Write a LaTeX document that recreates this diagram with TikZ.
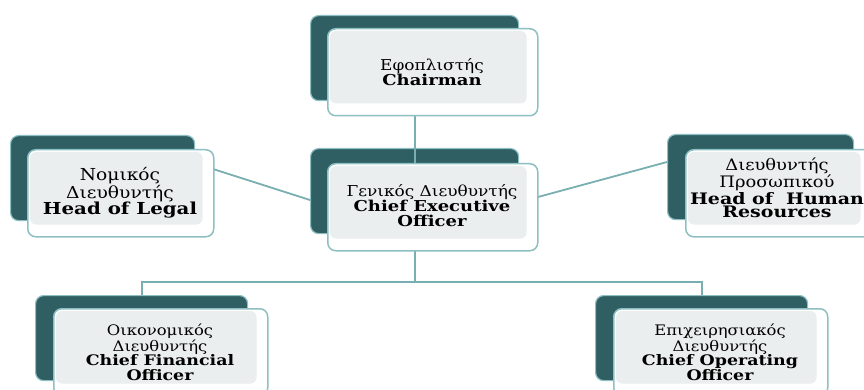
\documentclass[tikz,border=0pt]{standalone}
\usepackage{fontspec}
\setmainfont{DejaVu Serif}[FakeStretch=1.13]
\newfontfamily\bdfam{DejaVu Serif}[FakeStretch=1.2]
\newcommand{\B}[1]{{\bdfam\bfseries #1}}
\usetikzlibrary{calc}
\definecolor{dk}{HTML}{2F5F62}
\definecolor{bord}{HTML}{8EBFC2}
\definecolor{ln}{HTML}{7AAFB2}
\definecolor{gr}{HTML}{EBEEEE}
\tikzset{
  darkbox/.style={draw=bord, fill=dk, rounded corners=8pt, line width=1.2pt, minimum height=85pt, anchor=north west, inner sep=0},
  frontbox/.style={draw=bord, fill=white, rounded corners=8pt, line width=1.5pt, minimum height=87pt, anchor=north west, inner sep=0},
  innerbox/.style={fill=gr, rounded corners=6pt},
  conn/.style={draw=ln, line width=1.8pt},
  lbl/.style={align=center, inner sep=0, text=black},
}
\newcommand{\innerfill}[1]{\fill[innerbox] ($(#1.north west)+(3,3)$) rectangle ($(#1.south east)+(-12,-13)$);}
\begin{document}
\begin{tikzpicture}[x=1pt,y=-1pt]
\useasboundingbox (0,0) rectangle (864,390);
\clip (0,0) rectangle (864,390);
\fill[white] (0,0) rectangle (864,390);
% dark back boxes
\node[darkbox, minimum width=208pt] (chD) at (310,15) {};
\node[darkbox, minimum width=208pt] (ceoD) at (310,148) {};
\node[darkbox, minimum width=184pt] (legD) at (10,135) {};
\node[darkbox, minimum width=186pt] (hrD) at (667,134) {};
\node[darkbox, minimum width=212pt] (cfoD) at (35,295) {};
\node[darkbox, minimum width=212pt] (cooD) at (595,295) {};
% connectors
\coordinate (bus) at (414,282);
\draw[conn] (chD.center) -- (ceoD.center);
\draw[conn] (ceoD.center) -- (ceoD.center |- bus) -- (cfoD.center |- bus) -- (cfoD.north);
\draw[conn] (ceoD.center |- bus) -- (cooD.center |- bus) -- (cooD.north);
\coordinate (legA) at (213,169);
\coordinate (legB) at (310,200);
\coordinate (hrA) at (538,197);
\coordinate (hrB) at (667,162);
\draw[conn] (legA) -- (legB);
\draw[conn] (hrA) -- (hrB);
% front boxes
\node[frontbox, minimum width=210pt] (chF) at (327,28) {};
\innerfill{chF}
\node[frontbox, minimum width=210pt] (ceoF) at (327,163) {};
\innerfill{ceoF}
\node[frontbox, minimum width=186pt] (legF) at (27,149) {};
\innerfill{legF}
\node[frontbox, minimum width=186pt] (hrF) at (685,149) {};
\innerfill{hrF}
\node[frontbox, minimum width=214pt] (cfoF) at (53,308) {};
\innerfill{cfoF}
\node[frontbox, minimum width=214pt] (cooF) at (613,308) {};
\innerfill{cooF}
% labels
\node[lbl, font=\fontsize{15}{15}\selectfont] (chT) at (432,72) {Εφοπλιστής\\\B{Chairman}};
\node[lbl, font=\fontsize{15}{15}\selectfont] (ceoT) at (432,206) {Γενικός Διευθυντής\\\B{Chief Executive}\\\B{Officer}};
\node[lbl, font=\fontsize{16.5}{16.5}\selectfont] (legT) at (120,193) {Νομικός\\Διευθυντής\\\B{Head of Legal}};
\node[lbl, font=\fontsize{15.8}{13.5}\selectfont] (hrT) at (777,188) {Διευθυντής\\Προσωπικού\\\B{Head of~ Human}\\\B{Resources}};
\node[lbl, font=\fontsize{14.5}{14.5}\selectfont] (cfoT) at (160,352) {Οικονομικός\\Διευθυντής\\\B{Chief Financial}\\\B{Officer}};
\node[lbl, font=\fontsize{14.5}{14.5}\selectfont] (cooT) at (720,352) {Επιχειρησιακός\\Διευθυντής\\\B{Chief Operating}\\\B{Officer}};
\end{tikzpicture}
\end{document}
